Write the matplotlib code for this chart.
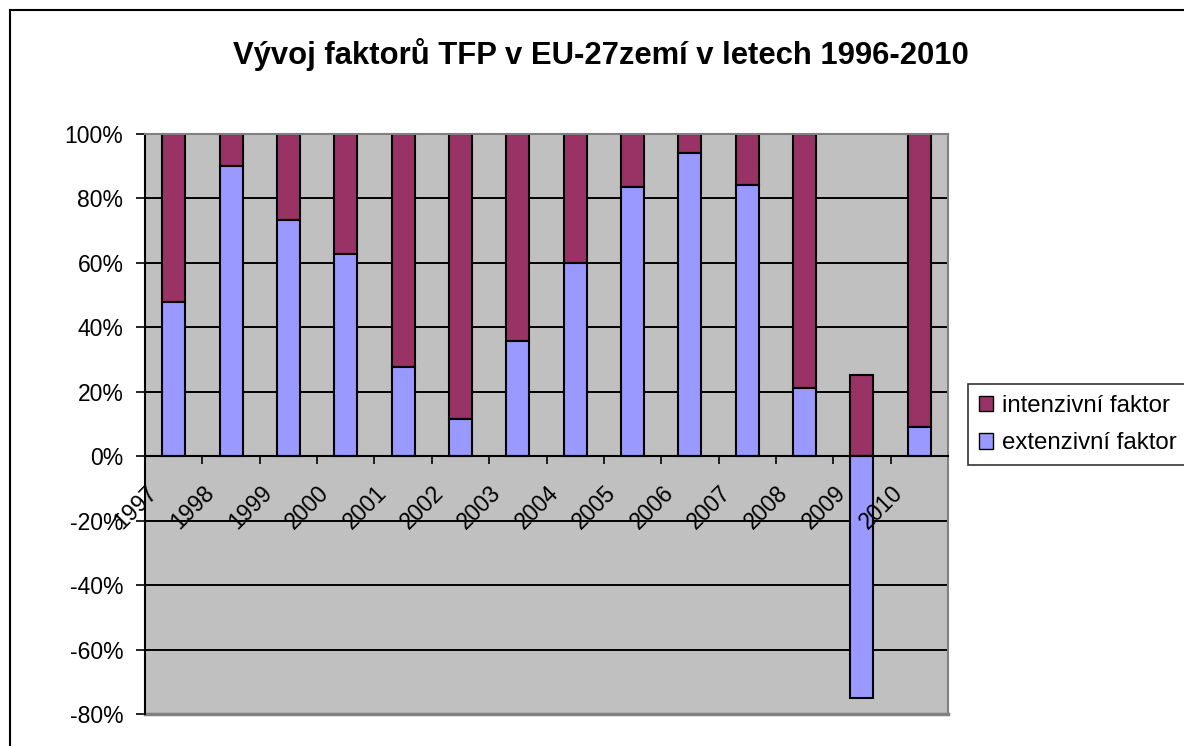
import numpy as np
import matplotlib
matplotlib.use("Agg")
import matplotlib.pyplot as plt
import matplotlib.transforms as mtransforms
from matplotlib.lines import Line2D

plt.rcParams['font.family'] = ['Liberation Sans', 'DejaVu Sans']

# data (percent)
years = ['1997', '1998', '1999', '2000', '2001', '2002', '2003',
         '2004', '2005', '2006', '2007', '2008', '2009', '2010']
extenzivni = [47.9, 90.1, 73.3, 62.9, 27.7, 11.4, 35.8,
              60.1, 83.7, 94.1, 84.2, 21.2, -74.9, 9.0]
intenzivni = [52.1, 9.9, 26.7, 37.1, 72.3, 88.6, 64.2,
              39.9, 16.3, 5.9, 15.8, 78.8, 25.2, 91.0]
yticks = [-80, -60, -40, -20, 0, 20, 40, 60, 80, 100]
ytick_labels = ['-80%', '-60%', '-40%', '-20%', '0%', '20%', '40%', '60%', '80%', '100%']

title = 'Vývoj faktorů TFP v EU-27zemí v letech 1996-2010'

fig = plt.figure(figsize=(11.84, 7.46), dpi=100)
ax = fig.add_axes([145/1184, 1 - 714/746, 803/1184, 580/746])
ax.set_facecolor('#C0C0C0')

x = np.arange(len(years))
ext = np.array(extenzivni)
inten = np.array(intenzivni)
bottom = np.where(ext > 0, ext, 0)

# bars sit under the axis artists so the year labels are drawn over them
b_int = ax.bar(x, inten, 0.4, bottom=bottom, color='#993366', edgecolor='black',
               linewidth=1.5, zorder=1.2, label='intenzivní faktor')
b_ext = ax.bar(x, ext, 0.4, color='#9999FF', edgecolor='black',
               linewidth=1.5, zorder=1.2, label='extenzivní faktor')

ax.set_xlim(-0.5, len(years) - 0.5)
ax.set_ylim(-80, 100)

# gridlines
for yv in yticks[1:-1]:
    ax.axhline(yv, color='black', lw=1.4, zorder=0.5)

# spines
for s in ['top', 'right']:
    ax.spines[s].set_color('#808080')
    ax.spines[s].set_linewidth(1.5)
ax.spines['left'].set_color('black')
ax.spines['left'].set_linewidth(1.5)
ax.spines['bottom'].set_position(('data', 0))
ax.spines['bottom'].set_linewidth(1.5)
ax.plot([0, 1], [0, 0], transform=ax.transAxes, color='#808080', lw=2.5, clip_on=False)

ax.set_yticks(yticks)
ax.set_yticklabels(ytick_labels, fontsize=16.5)
ax.tick_params(axis='y', direction='out', length=6.5, width=1.2, pad=9)

ax.set_xticks(np.arange(-0.5, len(years), 1))
ax.set_xticklabels([])
ax.tick_params(axis='x', which='major', direction='out', length=5.5, width=1.2)
ax.set_xticks(x, minor=True)
ax.set_xticklabels(years, minor=True, fontsize=16.5, rotation=45, ha='right', va='top')
ax.tick_params(axis='x', which='minor', length=0, pad=18)
shift = mtransforms.ScaledTranslation(-12/100, 0, fig.dpi_scale_trans)
for lab in ax.get_xticklabels(minor=True):
    lab.set_transform(lab.get_transform() + shift)

fig.text(601/1184, 1 - 55/746, title, ha='center', va='center',
         fontsize=22.3, fontweight='bold')

leg = ax.legend(handles=[b_int, b_ext], loc='upper left',
                bbox_to_anchor=(968/1184, 1 - 384/746), bbox_transform=fig.transFigure,
                fontsize=17.3, frameon=True, fancybox=False, edgecolor='black',
                handlelength=0.6, handleheight=0.6, handletextpad=0.35,
                borderpad=0.45, labelspacing=0.65, borderaxespad=0)
leg.set_zorder(5)
leg.get_frame().set_linewidth(1.2)
for h in leg.legend_handles:
    h.set_linewidth(1.0)

# chart area frame
fig.add_artist(Line2D([10/1184, 1], [1 - 10/746, 1 - 10/746], color='black', lw=1.5))
fig.add_artist(Line2D([10/1184, 10/1184], [0, 1 - 10/746], color='black', lw=1.5))

fig.savefig('out.png', dpi=100)
